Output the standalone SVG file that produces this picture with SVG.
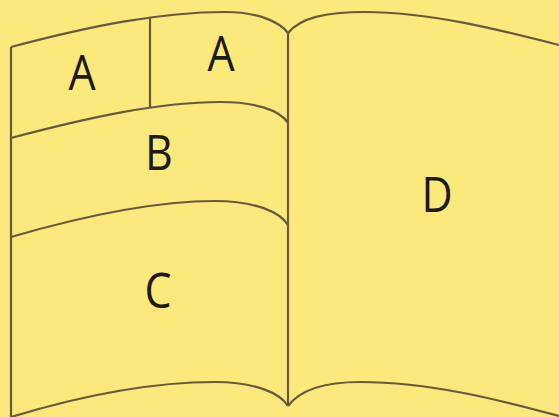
<svg xmlns="http://www.w3.org/2000/svg" width="559" height="417" viewBox="0 0 559 417">
<style>
.ln{fill:none;stroke:#67593f;stroke-width:2.2;stroke-linejoin:round}
.lb{font-family:"Open Sans","Noto Sans",sans-serif;font-size:50px;fill:#1c1a14;text-anchor:middle}
</style>
<rect width="559" height="417" fill="#fce97c"/>
<g id="left-page">
<path class="ln" d="M11,47 C90,26 160,12 225,12 C258,12 280,22 288,33"/>
<path class="ln" d="M11,47 V417"/>
<path class="ln" d="M11,417 C90,393 160,382 215,382 C255,382 280,393 288,406"/>
</g>
<g id="spine"><path class="ln" d="M288,33 V406"/></g>
<g id="right-page">
<path class="ln" d="M288,33 C300,18 325,12 365,12 C430,12 500,30 559,45"/>
<path class="ln" d="M288,406 C300,390 325,382 360,382 C430,382 500,400 559,416"/>
</g>
<g id="dividers">
<path class="ln" d="M150,17 V108"/>
<path class="ln" d="M11,138 C90,117 160,102 220,102 C255,102 280,110 288,123"/>
<path class="ln" d="M11,237 C90,214 160,201 215,201 C255,201 280,212 288,225"/>
</g>
<g id="region-a1"><text class="lb" x="82" y="90" transform="translate(82 0) scale(0.86 1) translate(-82 0)">A</text></g>
<g id="region-a2"><text class="lb" x="221" y="71" transform="translate(221 0) scale(0.86 1) translate(-221 0)">A</text></g>
<g id="region-b"><text class="lb" x="159" y="170" transform="translate(159 0) scale(0.86 1) translate(-159 0)">B</text></g>
<g id="region-c"><text class="lb" x="158" y="308" transform="translate(158 0) scale(0.86 1) translate(-158 0)">C</text></g>
<g id="region-d"><text class="lb" x="437" y="212" transform="translate(437 0) scale(0.86 1) translate(-437 0)">D</text></g>
</svg>
